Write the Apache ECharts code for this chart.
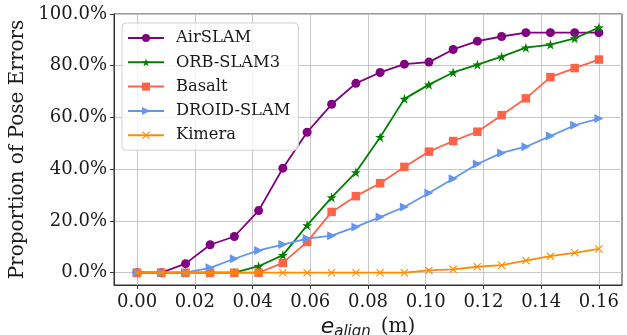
<!DOCTYPE html>
<html>
<head>
<meta charset="utf-8">
<script src="https://cdn.jsdelivr.net/npm/echarts@6/dist/echarts.min.js"></script>
<style>html,body{margin:0;padding:0;background:#fff;}#c{width:627px;height:335px;}</style>
</head>
<body>
<div id="c"></div>
<script>
const xValues = [0.0000,0.0084,0.0168,0.0253,0.0337,0.0421,0.0505,0.0589,0.0674,0.0758,0.0842,0.0926,0.1011,0.1095,0.1179,0.1263,0.1347,0.1432,0.1516,0.1600];
const airslam   = [0,0,3.5,10.8,14.0,24.0,40.4,54.3,65.1,73.2,77.4,80.6,81.4,86.3,89.5,91.3,92.8,92.8,92.8,92.8];
const orbslam3  = [0,0,0,0,0,2.5,6.8,18.3,29.1,38.8,52.4,67.2,72.7,77.4,80.4,83.5,87.0,88.2,90.6,94.8];
const basalt    = [0,0,0,0,0,0,3.8,11.9,23.5,29.6,34.6,40.9,46.8,50.9,54.5,60.9,67.4,75.6,79.1,82.4];
const droidslam = [0,0,0,1.9,5.4,8.6,10.9,13.2,14.3,17.7,21.5,25.4,30.8,36.3,42.0,46.3,48.7,52.8,57.0,59.6];
const kimera    = [0,0,0,0,0,0,0,0,0,0,0,0,0.9,1.3,2.3,2.9,4.7,6.4,7.7,9.2];
const xTicks = [0,0.02,0.04,0.06,0.08,0.10,0.12,0.14,0.16];
const yTicks = [0,20,40,60,80,100];
const seriesNames = ['AirSLAM','ORB-SLAM3','Basalt','DROID-SLAM','Kimera'];

const STAR = 'path://M0,-1 L0.2245,-0.309 L0.951,-0.309 L0.363,0.118 L0.588,0.809 L0,0.382 L-0.588,0.809 L-0.363,0.118 L-0.951,-0.309 L-0.2245,-0.309 Z';
const XMARK = 'path://M-1,-0.8 L-0.8,-1 L0,-0.2 L0.8,-1 L1,-0.8 L0.2,0 L1,0.8 L0.8,1 L0,0.2 L-0.8,1 L-1,0.8 L-0.2,0 Z';

function pairs(arr){ return arr.map((v,i)=>[xValues[i], v]); }
const serif = "'DejaVu Serif', serif";
const styles = [
  {color:'#800080', symbol:'circle', size:9, rot:0},
  {color:'#008000', symbol:STAR, size:10, rot:0},
  {color:'#ff6347', symbol:'rect', size:8.5, rot:0},
  {color:'#6495ed', symbol:'triangle', size:9, rot:-90},
  {color:'#ff8c00', symbol:XMARK, size:8, rot:0}
];
const datas = [airslam, orbslam3, basalt, droidslam, kimera];

const chart = echarts.init(document.getElementById('c'), null, {renderer:'canvas'});
chart.setOption({
  animation:false,
  backgroundColor:'#fff',
  grid:{left:114, right:5, top:14, bottom:50, outerBoundsMode:'none', containLabel:false, show:true, borderColor:'#333', borderWidth:1, backgroundColor:'transparent'},
  legend:{
    orient:'vertical', left:122, top:23, data:seriesNames,
    backgroundColor:'rgba(255,255,255,0.8)', borderColor:'#d0d0d0', borderWidth:1, borderRadius:4,
    padding:[6,8,6,5], itemWidth:36, itemHeight:10, itemGap:6.3,
    textStyle:{fontFamily:serif, fontSize:16.3, color:'#1a1a1a', lineHeight:18, padding:[0,0,0,7]}
  },
  xAxis:{
    type:'value', min:-0.008, max:0.168,
    axisLine:{show:true, onZero:false, lineStyle:{color:'#333', width:1}},
    axisTick:{show:true, length:4, inside:false, customValues:xTicks, lineStyle:{color:'#333'}},
    axisLabel:{customValues:xTicks, margin:8, fontFamily:serif, fontSize:18, color:'#1a1a1a', formatter:v=>v.toFixed(2)},
    splitLine:{show:true, lineStyle:{color:'#c8c8c8', width:1}},
    name:'{e|e}{s|align}{m|(m)}', nameLocation:'middle', nameGap:27,
    nameTextStyle:{rich:{
      e:{fontFamily:"'DejaVu Sans', sans-serif", fontStyle:'italic', fontSize:22, color:'#1a1a1a'},
      s:{fontFamily:"'DejaVu Sans', sans-serif", fontStyle:'italic', fontSize:15, color:'#1a1a1a', padding:[10,0,0,0]},
      m:{fontFamily:serif, fontSize:20, color:'#1a1a1a', padding:[0,0,0,10]}
    }}
  },
  yAxis:{
    type:'value', min:-4.75, max:100,
    axisLine:{show:true, onZero:false, lineStyle:{color:'#333', width:1}},
    axisTick:{show:true, length:4, inside:false, customValues:yTicks, lineStyle:{color:'#333'}},
    axisLabel:{customValues:yTicks, margin:7, fontFamily:serif, fontSize:18, color:'#1a1a1a', formatter:v=>v.toFixed(1)+'%'},
    splitLine:{show:true, lineStyle:{color:'#c8c8c8', width:1}},
    name:'Proportion of Pose Errors', nameLocation:'middle', nameGap:83,
    nameTextStyle:{fontFamily:serif, fontSize:20, color:'#1a1a1a'}
  },
  series: seriesNames.map((n,i)=>({
    name:n, type:'line', data:pairs(datas[i]),
    symbol:styles[i].symbol, symbolSize:styles[i].size, symbolRotate:styles[i].rot,
    showAllSymbol:true,
    lineStyle:{color:styles[i].color, width:1.8},
    itemStyle:{color:styles[i].color},
    z:2+i
  }))
});
</script>
</body>
</html>
